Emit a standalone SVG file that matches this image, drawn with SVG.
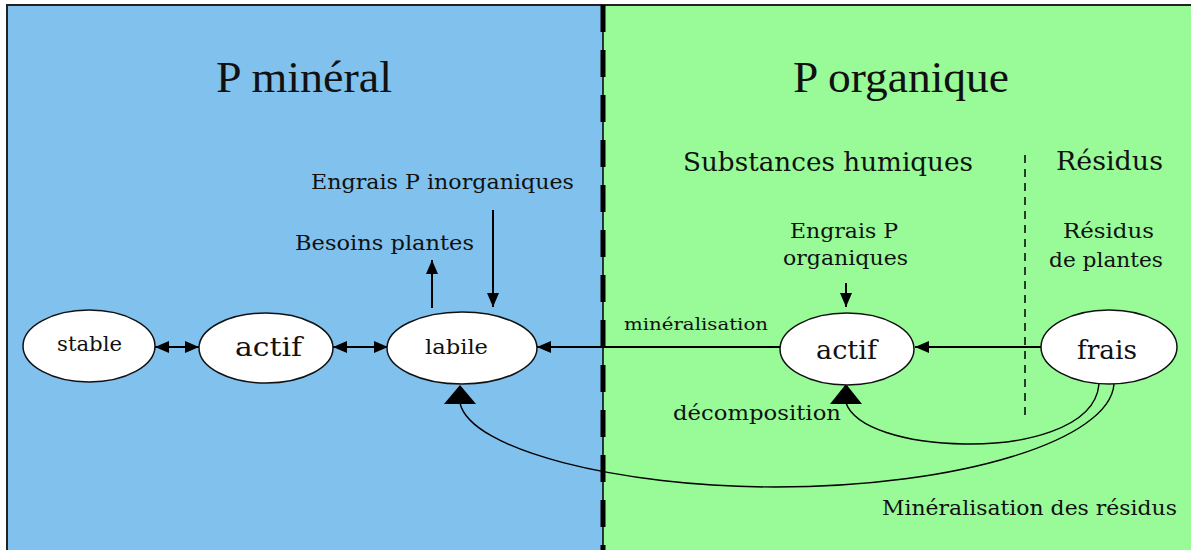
<svg xmlns="http://www.w3.org/2000/svg" width="1191" height="550" viewBox="0 0 1191 550">
<style>
text{font-family:"DejaVu Serif","Liberation Serif",serif;fill:#111;}
text.title{font-family:"Liberation Serif","Times New Roman",serif;}
.node{fill:#fff;stroke:#111;stroke-width:1.5;}
.ln{stroke:#000;stroke-width:2;fill:none;}
.cv{stroke:#000;stroke-width:1.4;fill:none;}
.big{fill:#000;}
</style>
<defs>
<marker id="ah" viewBox="0 0 14 12" refX="14" refY="6" markerWidth="14" markerHeight="12" markerUnits="userSpaceOnUse" orient="auto-start-reverse">
<path d="M0,0 L14,6 L0,12 z" fill="#000"/>
</marker>
</defs>
<g id="background">
<rect x="7" y="5" width="596" height="545" fill="#80C1EE"/>
<rect x="603" y="5" width="588" height="545" fill="#98FB98"/>
<path d="M7,550 V5 H1191" fill="none" stroke="#222" stroke-width="2"/>
<line x1="603" y1="5" x2="603" y2="550" stroke="#000" stroke-width="1.5"/>
<line x1="603" y1="5" x2="603" y2="550" stroke="#000" stroke-width="5" stroke-dasharray="27 18"/>
<line x1="1025" y1="155" x2="1025" y2="418" stroke="#000" stroke-width="1.5" stroke-dasharray="8 6"/>
</g>
<g id="titles">
<text class="title" x="216" y="92" font-size="44" textLength="176" lengthAdjust="spacingAndGlyphs">P minéral</text>
<text class="title" x="793" y="92" font-size="44" textLength="216" lengthAdjust="spacingAndGlyphs">P organique</text>
<text x="683" y="171" font-size="26" textLength="290" lengthAdjust="spacingAndGlyphs">Substances humiques</text>
<text x="1056" y="170" font-size="26" textLength="107" lengthAdjust="spacingAndGlyphs">Résidus</text>
</g>
<g id="labels">
<text x="311" y="189" font-size="21" textLength="263" lengthAdjust="spacingAndGlyphs">Engrais P inorganiques</text>
<text x="295" y="250" font-size="21" textLength="179" lengthAdjust="spacingAndGlyphs">Besoins plantes</text>
<text x="790" y="238" font-size="20" textLength="108" lengthAdjust="spacingAndGlyphs">Engrais P</text>
<text x="783" y="265" font-size="20" textLength="125" lengthAdjust="spacingAndGlyphs">organiques</text>
<text x="1063" y="238" font-size="20" textLength="91" lengthAdjust="spacingAndGlyphs">Résidus</text>
<text x="1049" y="267" font-size="20" textLength="114" lengthAdjust="spacingAndGlyphs">de plantes</text>
<text x="624" y="330" font-size="17" textLength="144" lengthAdjust="spacingAndGlyphs">minéralisation</text>
<text x="673" y="420" font-size="20" textLength="168" lengthAdjust="spacingAndGlyphs">décomposition</text>
<text x="882" y="515" font-size="21" textLength="295" lengthAdjust="spacingAndGlyphs">Minéralisation des résidus</text>
</g>
<g id="connectors">
<line class="ln" x1="155" y1="347" x2="199" y2="347" marker-start="url(#ah)" marker-end="url(#ah)"/>
<line class="ln" x1="333" y1="347" x2="388" y2="347" marker-start="url(#ah)" marker-end="url(#ah)"/>
<line class="ln" x1="432" y1="308" x2="432" y2="260" marker-end="url(#ah)"/>
<line class="ln" x1="493" y1="210" x2="493" y2="307" marker-end="url(#ah)"/>
<line class="ln" x1="780" y1="347" x2="537" y2="347" marker-end="url(#ah)"/>
<line class="ln" x1="1041" y1="347" x2="915" y2="347" marker-end="url(#ah)"/>
<line class="ln" x1="846" y1="283" x2="846" y2="307" marker-end="url(#ah)"/>
<path class="cv" d="M1099,384 C1095,430 1020,445 965,444 C905,443 855,428 846,403"/>
<path class="cv" d="M1114,384 C1110,440 960,487 775,487 C620,487 470,450 460,403"/>
<polygon class="big" points="846,384 830,404 862,404"/>
<polygon class="big" points="460,385 444,404 476,404"/>
</g>
<g id="node-stable">
<ellipse class="node" cx="89" cy="346" rx="66" ry="36"/>
<text x="57" y="351" font-size="21" textLength="65" lengthAdjust="spacingAndGlyphs">stable</text>
</g>
<g id="node-actif-mineral">
<ellipse class="node" cx="266" cy="348" rx="67" ry="35"/>
<text x="235" y="356" font-size="26" textLength="67" lengthAdjust="spacingAndGlyphs">actif</text>
</g>
<g id="node-labile">
<ellipse class="node" cx="462" cy="348" rx="75" ry="36"/>
<text x="425" y="354" font-size="21" textLength="63" lengthAdjust="spacingAndGlyphs">labile</text>
</g>
<g id="node-actif-organique">
<ellipse class="node" cx="847" cy="349" rx="67" ry="36"/>
<text x="816" y="359" font-size="26" textLength="61" lengthAdjust="spacingAndGlyphs">actif</text>
</g>
<g id="node-frais">
<ellipse class="node" cx="1109" cy="347" rx="68" ry="37"/>
<text x="1077" y="359" font-size="26" textLength="60" lengthAdjust="spacingAndGlyphs">frais</text>
</g>
</svg>
